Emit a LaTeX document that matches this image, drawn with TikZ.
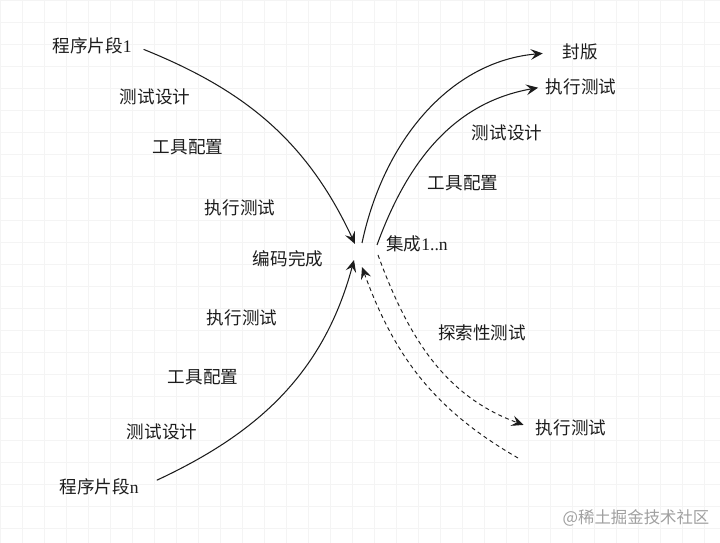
\documentclass[tikz,border=0pt]{standalone}
\usepackage{fontspec}
\setmainfont{Liberation Serif}
\newfontfamily\cjkfont{Noto Sans CJK SC}
\usetikzlibrary{arrows.meta}
\definecolor{cInk}{HTML}{1C1C1C}
\definecolor{cGrid}{HTML}{F4F4F4}
\definecolor{cMark}{HTML}{A0A0A0}
\newcommand{\zh}[1]{{\cjkfont #1}}
\tikzset{
  steplabel/.style={font=\fontsize{15}{17}\selectfont, text=cInk, inner sep=3pt},
  marklabel/.style={font=\cjkfont\fontsize{14}{16}\selectfont, text=cMark, inner sep=3pt},
  flow/.style={-{Stealth[length=3.6mm, width=3.2mm, inset=1.4mm]}, line width=0.9pt, draw=cInk},
  dashflow/.style={flow, line width=0.8pt, dash pattern=on 1.2mm off 1mm},
  gridline/.style={draw=cGrid, line width=0.4pt},
}

\begin{document}
\begin{tikzpicture}[x=0.03cm, y=-0.03cm]

  % ----------------------------------------------------------------
  % Canvas and faint background grid
  % ----------------------------------------------------------------
  \useasboundingbox[fill=white] (0,0) rectangle (720,543);
  \draw[gridline, step=0.66cm] (0,0) grid (720,543);

  % ----------------------------------------------------------------
  % Left side: code fragments converging on completion
  % ----------------------------------------------------------------
  \node[steplabel] (src1)    at (92,46)   {\zh{程序片段}1};
  \node[steplabel] (designA) at (155,97)  {\zh{测试设计}};
  \node[steplabel] (toolA)   at (188,147) {\zh{工具配置}};
  \node[steplabel] (runA)    at (240,208) {\zh{执行测试}};
  \node[steplabel] (coded)   at (288,259) {\zh{编码完成}};
  \node[steplabel] (runB)    at (242,318) {\zh{执行测试}};
  \node[steplabel] (toolB)   at (203,377) {\zh{工具配置}};
  \node[steplabel] (designB) at (162,432) {\zh{测试设计}};
  \node[steplabel] (srcN)    at (99,487)  {\zh{程序片段}n};

  % ----------------------------------------------------------------
  % Right side: integration, release and exploratory testing
  % ----------------------------------------------------------------
  \node[steplabel] (merge)   at (417,244) {\zh{集成}1..n};
  \node[steplabel] (seal)    at (580,52)  {\zh{封版}};
  \node[steplabel] (runTop)  at (581,87)  {\zh{执行测试}};
  \node[steplabel] (designR) at (507,133) {\zh{测试设计}};
  \node[steplabel] (toolR)   at (463,183) {\zh{工具配置}};
  \node[steplabel] (explore) at (482,333) {\zh{探索性测试}};
  \node[steplabel] (runLow)  at (571,428) {\zh{执行测试}};

  \node[marklabel] (mark) at (636,518) {@稀土掘金技术社区};

  % ----------------------------------------------------------------
  % Meeting points in the middle
  % ----------------------------------------------------------------
  \coordinate (hubA)  at (355,244);
  \coordinate (hubB)  at (354,260);
  \coordinate (outA)  at (362,243);
  \coordinate (outB)  at (377,245);
  \coordinate (outC)  at (378,255);
  \coordinate (backD) at (362,267);
  \coordinate (tailD) at (518,458);

  % ----------------------------------------------------------------
  % Curved flows
  % ----------------------------------------------------------------
  \draw[flow, shorten <=2.7mm] (src1.east) to[out=-22, in=115] (hubA);
  \draw[flow, shorten <=4.8mm] (srcN.east) to[out=25, in=-105] (hubB);
  \draw[flow, shorten >=4.8mm] (outA) to[out=78, in=185] (seal.west);
  \draw[flow, shorten >=1.2mm] (outB) to[out=70, in=190] (runTop.west);
  \draw[dashflow, shorten >=2.7mm] (outC) to[out=-70, in=160] (runLow.west);
  \draw[dashflow] (tailD) to[out=150, in=-70] (backD);

\end{tikzpicture}
\end{document}
